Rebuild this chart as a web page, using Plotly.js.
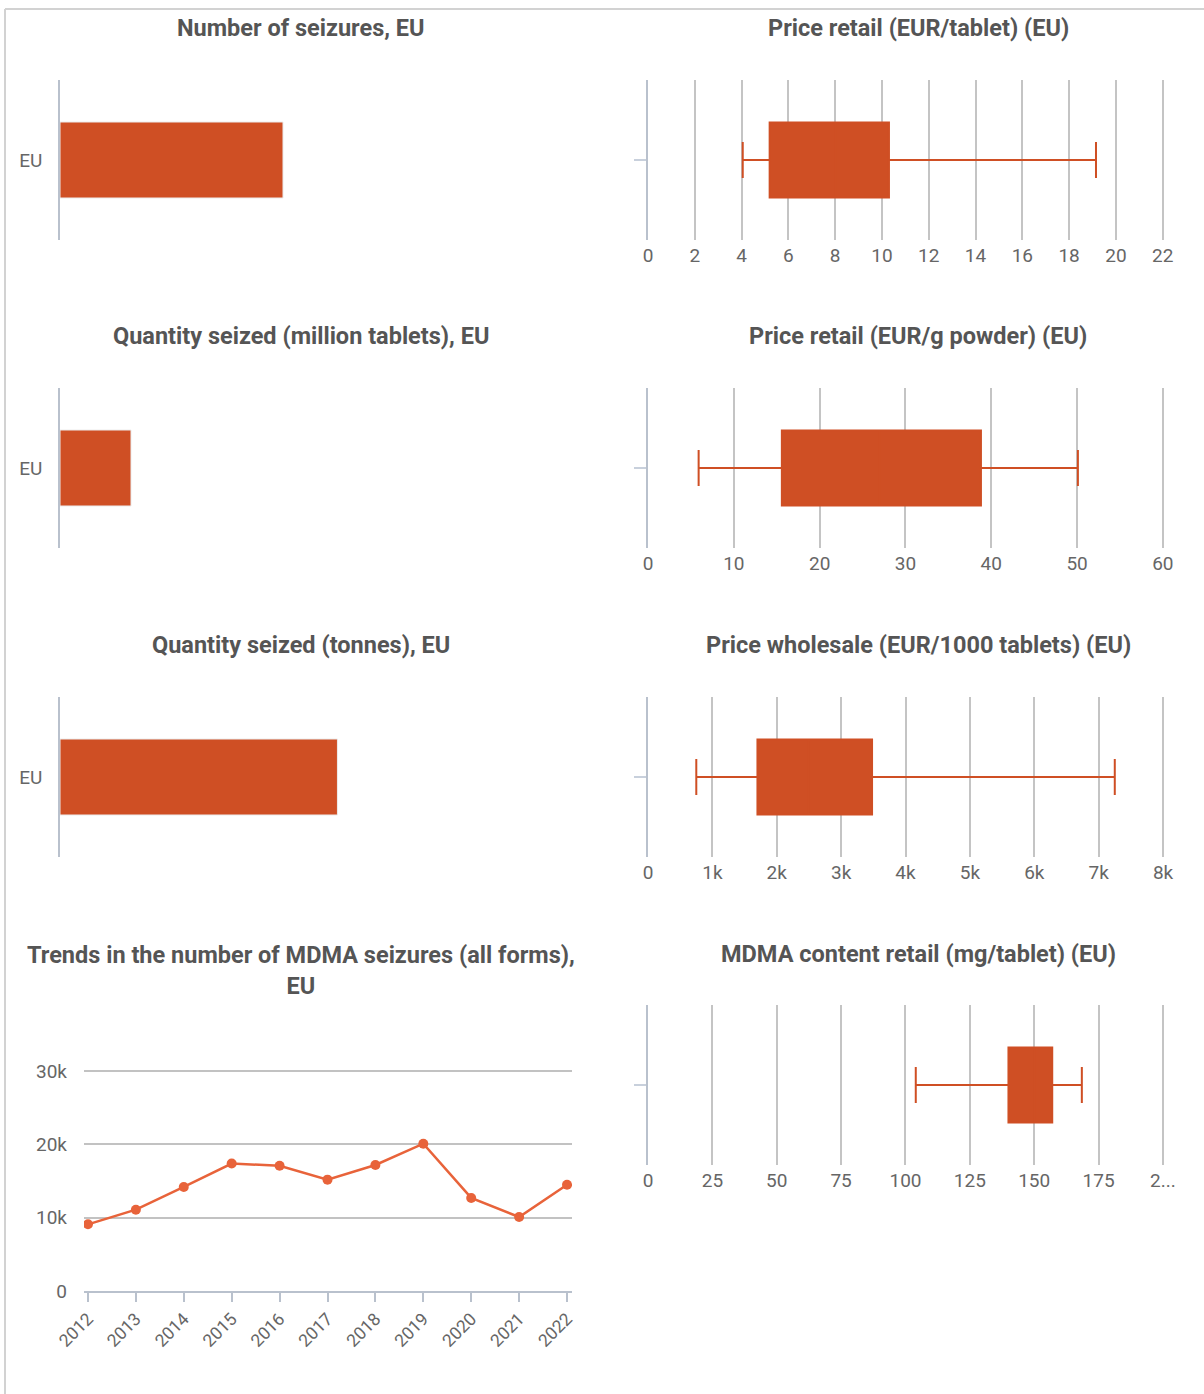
<!DOCTYPE html>
<html>
<head>
<meta charset="utf-8">
<script src="https://cdn.plot.ly/plotly-3.0.1.min.js"></script>
<style>html,body{margin:0;padding:0;background:#fff;}#chart{width:1204px;height:1394px;}</style>
</head>
<body>
<div id="chart"></div>
<script>
// ---- data ----
const barCategory = ['EU'];
const seizuresCount = [14500];
const quantityMillionTablets = [2.6];
const quantityTonnes = [1.1];

const trendYears = ['2012','2013','2014','2015','2016','2017','2018','2019','2020','2021','2022'];
const trendSeizures = [9100, 11100, 14200, 17400, 17100, 15200, 17200, 20100, 12700, 10100, 14500];

const boxTabletPrice   = {lower: 4.05, q1: 5.2, median: 8.0,  q3: 10.3, upper: 19.15};
const boxPowderPrice   = {lower: 5.9,  q1: 15.6, median: 27, q3: 38.8, upper: 50.1};
const boxWholesale     = {lower: 750,  q1: 1700, median: 2500, q3: 3480, upper: 7250};
const boxContent       = {lower: 104,  q1: 140, median: 150, q3: 157, upper: 168.5};

const contentTickVals = [0,25,50,75,100,125,150,175,200];
const contentTickText = ['0','25','50','75','100','125','150','175','2...'];

// ---- style ----
const W = 1204, H = 1394;
const fx = p => p / W;
const fy = p => 1 - p / H;
const BAR = '#cf4f24';
const LINE = '#e8633a';
const TXT = '#666666';
const AXLINE = '#b9c1cd';
const GRID = '#c4c4c4';
const tickFont = {family: 'Roboto, sans-serif', size: 19, color: TXT};
const titleFont = {family: 'Roboto, sans-serif', size: 23.5, color: '#555555', weight: 'bold'};

const rows = [[80,240],[388,548],[697,857],[1005,1165]];
const leftX = [60,572];
const rightX = [648,1165];

const data = [];
const layout = {
  width: W, height: H,
  margin: {l:0, r:0, t:0, b:0},
  paper_bgcolor: '#ffffff', plot_bgcolor: 'rgba(0,0,0,0)',
  showlegend: false,
  font: tickFont,
  annotations: [], shapes: []
};

// bar panels
const barSets = [
  {vals: seizuresCount, range: [0, 33290], title: 'Number of seizures, EU'},
  {vals: quantityMillionTablets, range: [0, 18.75], title: 'Quantity seized (million tablets), EU'},
  {vals: quantityTonnes, range: [0, 2.03], title: 'Quantity seized (tonnes), EU'}
];
barSets.forEach((b, i) => {
  const n = i + 1;
  const xa = 'x' + n, ya = 'y' + n;
  data.push({type:'bar', orientation:'h', x: b.vals, y: barCategory, width: 0.475,
    marker:{color: BAR, line:{color:'#ececec', width:1}}, xaxis: xa, yaxis: ya, hoverinfo:'x'});
  layout['xaxis' + n] = {domain:[fx(leftX[0]), fx(leftX[1])], anchor: ya, range: b.range,
    showgrid:false, zeroline:false, showticklabels:false, ticks:'', showline:false, fixedrange:true};
  layout['yaxis' + n] = {domain:[fy(rows[i][1]), fy(rows[i][0])], anchor: xa, type:'category',
    range:[-0.5,0.5], showline:true, linecolor: AXLINE, linewidth:1.5, ticks:'', showgrid:false,
    tickfont: tickFont, ticklabelstandoff: 12, fixedrange:true};
  layout.annotations.push({xref:'paper', yref:'paper', x: fx(301), y: fy([28,336,645][i]),
    text: b.title, showarrow:false, xanchor:'center', yanchor:'middle', font: titleFont});
});

// box panels
const boxSets = [
  {s: boxTabletPrice, range:[0,22.1], dtick:2, title:'Price retail (EUR/tablet) (EU)'},
  {s: boxPowderPrice, range:[0,60.25], dtick:10, title:'Price retail (EUR/g powder) (EU)'},
  {s: boxWholesale, range:[0,8030], dtick:1000, title:'Price wholesale (EUR/1000 tablets) (EU)', fmt:'~s'},
  {s: boxContent, range:[0,200.8], tickvals: contentTickVals, ticktext: contentTickText, title:'MDMA content retail (mg/tablet) (EU)'}
];
boxSets.forEach((b, i) => {
  const n = i + 4;
  const xa = 'x' + n, ya = 'y' + n;
  data.push({type:'box', orientation:'h', y: barCategory,
    q1:[b.s.q1], median:[b.s.median], q3:[b.s.q3], lowerfence:[b.s.lower], upperfence:[b.s.upper],
    width: 0.47, whiskerwidth: 0.48, fillcolor: BAR, line:{color: BAR, width: 2},
    xaxis: xa, yaxis: ya, hoverinfo:'x'});
  const xax = {domain:[fx(rightX[0]), fx(rightX[1])], anchor: ya, range: b.range,
    showgrid:true, gridcolor: GRID, gridwidth:1.5, zeroline:false, showline:false, ticks:'',
    tickfont: tickFont, ticklabelstandoff: 2, fixedrange:true};
  if (b.tickvals) { xax.tickmode='array'; xax.tickvals=b.tickvals; xax.ticktext=b.ticktext; }
  else { xax.tickmode='linear'; xax.tick0=0; xax.dtick=b.dtick; }
  if (b.fmt) xax.tickformat = b.fmt;
  layout['xaxis' + n] = xax;
  layout['yaxis' + n] = {domain:[fy(rows[i][1]), fy(rows[i][0])], anchor: xa, type:'category',
    range:[-0.5,0.5], showline:true, linecolor: AXLINE, linewidth:1.5, ticks:'outside', ticklen:12,
    tickcolor:'#c8d0dc', tickwidth:1.5, showticklabels:false, showgrid:false, fixedrange:true};
  layout.annotations.push({xref:'paper', yref:'paper', x: fx(918), y: fy([28,336,645,954][i]),
    text: b.title, showarrow:false, xanchor:'center', yanchor:'middle', font: titleFont});
});

// line chart panel
data.push({type:'scatter', mode:'lines+markers', x: trendYears, y: trendSeizures,
  line:{color: LINE, width: 2.5}, marker:{color: LINE, size: 10},
  xaxis:'x8', yaxis:'y8', hoverinfo:'x+y'});
layout.xaxis8 = {domain:[fx(84), fx(572)], anchor:'y8', type:'category', range:[-0.083, 10.104],
  showgrid:false, zeroline:false, showline:true, linecolor: AXLINE, linewidth:1.5,
  ticks:'outside', ticklen:9, tickcolor: AXLINE, tickwidth:1.5, tickangle:-45,
  tickfont:{family:'Roboto, sans-serif', size:17.5, color: TXT}, fixedrange:true};
layout.yaxis8 = {domain:[fy(1291), fy(1069)], anchor:'x8', range:[0, 30300], tickmode:'linear',
  tick0:0, dtick:10000, tickformat:'~s', showgrid:true, gridcolor:'#c2c2c2', gridwidth:1.5,
  zeroline:false, showline:false, ticks:'', tickfont: tickFont, ticklabelstandoff: 16, fixedrange:true};
layout.annotations.push({xref:'paper', yref:'paper', x: fx(301), y: fy(970),
  text:'Trends in the number of MDMA seizures (all forms),<br>EU', showarrow:false,
  xanchor:'center', yanchor:'middle', font: titleFont});

// frame
layout.shapes.push({type:'line', xref:'paper', yref:'paper', x0: fx(5), x1: 1, y0: fy(9), y1: fy(9),
  line:{color:'#d2d2d2', width:2}});
layout.shapes.push({type:'line', xref:'paper', yref:'paper', x0: fx(5), x1: fx(5), y0: fy(9), y1: 0,
  line:{color:'#d2d2d2', width:2}});

Plotly.newPlot('chart', data, layout, {displayModeBar:false, staticPlot:false});
</script>
</body>
</html>
